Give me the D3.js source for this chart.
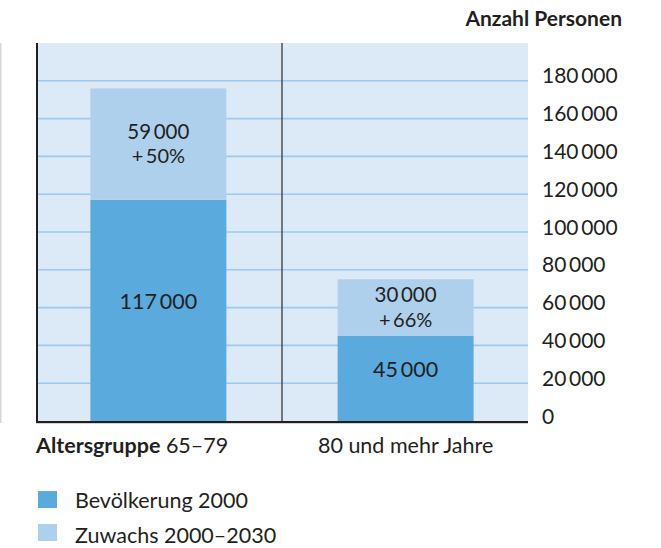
<!DOCTYPE html>
<html><head><meta charset="utf-8">
<script src="https://cdn.jsdelivr.net/npm/d3@7"></script>
<style>
html,body{margin:0;padding:0;background:#fff;}
svg{display:block;}
text{font-family:Lato,"Open Sans",sans-serif;fill:#231f20;}
</style></head>
<body>
<script>
const categories = ["65–79", "80 und mehr Jahre"];
const base2000 = [117000, 45000];
const growth = [59000, 30000];
const growthPct = ["+50%", "+66%"];
const yTicks = [0, 20000, 40000, 60000, 80000, 100000, 120000, 140000, 160000, 180000];
const seriesNames = ["Bevölkerung 2000", "Zuwachs 2000–2030"];
const colors = ["#5aaadd", "#aed0ec"];

const W = 661, H = 548;
const fmt = v => {
  const s = String(v);
  return s.length > 3 ? s.slice(0, s.length - 3) + "\u2009" + s.slice(-3) : s;
};

const svg = d3.select("body").append("svg").attr("width", W).attr("height", H);

const pL = 36, pR = 528, pT = 43, pB = 421;
const x = d3.scaleBand().domain(categories).range([pL, pR]).paddingInner(0.45).paddingOuter(0.22);
const y = d3.scaleLinear().domain([0, 200000]).range([pB, pT]);

// faint left border line
svg.append("rect").attr("x", 0).attr("y", pT).attr("width", 1.5).attr("height", pB - pT + 2).attr("fill", "#d6d6d6");

// background
svg.append("rect").attr("x", pL).attr("y", pT).attr("width", pR - pL).attr("height", pB - pT).attr("fill", "#dce9f7");

// gridlines
svg.append("g").selectAll("line").data(yTicks.filter(d => d > 0)).join("line")
  .attr("x1", pL).attr("x2", pR)
  .attr("y1", d => y(d)).attr("y2", d => y(d))
  .attr("stroke", "#9dcaee").attr("stroke-width", 1.6);

// divider
const divX = (x(categories[0]) + x.bandwidth() + x(categories[1])) / 2;
svg.append("line").attr("x1", divX).attr("x2", divX).attr("y1", pT).attr("y2", pB)
  .attr("stroke", "#3a3a3a").attr("stroke-width", 1.3);

// stacked data
const rows = categories.map((c, i) => ({cat: c, base: base2000[i], growth: growth[i], pct: growthPct[i]}));
const stack = d3.stack().keys(["base", "growth"])(rows);

svg.append("g").selectAll("g").data(stack).join("g")
  .attr("fill", (d, i) => colors[i])
  .selectAll("rect").data(d => d).join("rect")
  .attr("x", d => x(d.data.cat))
  .attr("width", x.bandwidth())
  .attr("y", d => y(d[1]))
  .attr("height", d => y(d[0]) - y(d[1]));

// labels
const lab = svg.append("g").attr("text-anchor", "middle");
rows.forEach(r => {
  const cx = x(r.cat) + x.bandwidth() / 2;
  const midBase = (y(0) + y(r.base)) / 2;
  lab.append("text").attr("x", cx).attr("y", midBase - 1).attr("font-size", 21.5).text(fmt(r.base));
  const midG = (y(r.base) + y(r.base + r.growth)) / 2;
  lab.append("text").attr("x", cx).attr("y", midG - 5.5).attr("font-size", 20.5).text(fmt(r.growth));
  lab.append("text").attr("x", cx).attr("y", midG + 19).attr("font-size", 20).text(r.pct.replace("+", "+\u2009"));
});

// axes lines
svg.append("rect").attr("x", pL).attr("y", pT).attr("width", 2).attr("height", pB - pT + 2).attr("fill", "#231f20");
svg.append("rect").attr("x", pL).attr("y", pB).attr("width", pR - pL).attr("height", 2.2).attr("fill", "#231f20");

// right axis
const yAxis = d3.axisRight(y).tickValues(yTicks).tickFormat(fmt).tickSize(0).tickPadding(0);
const ga = svg.append("g").attr("transform", `translate(542,0)`).call(yAxis);
ga.select(".domain").remove();
ga.selectAll("text").attr("font-size", 21).attr("font-family", "Lato, sans-serif").attr("fill", "#231f20")
  .attr("dy", null).attr("y", 2);

svg.append("text").attr("x", 622).attr("y", 26).attr("text-anchor", "end")
  .attr("font-size", 21).attr("font-weight", "bold").text("Anzahl Personen");

// category labels
const c0 = svg.append("text").attr("x", pL).attr("y", 453).attr("font-size", 21.5);
c0.append("tspan").attr("font-weight", "bold").text("Altersgruppe");
c0.append("tspan").text(" " + categories[0]);
svg.append("text").attr("x", x(categories[1]) + x.bandwidth() / 2).attr("y", 453)
  .attr("text-anchor", "middle").attr("font-size", 21.5).text(categories[1]);

// legend
const lg = svg.append("g");
seriesNames.forEach((n, i) => {
  lg.append("rect").attr("x", 38).attr("y", 491 + i * 33).attr("width", 19).attr("height", 17).attr("fill", colors[i]);
  lg.append("text").attr("x", 75).attr("y", 508 + i * 34.5).attr("font-size", 21.5).text(n);
});
</script>
</body></html>
